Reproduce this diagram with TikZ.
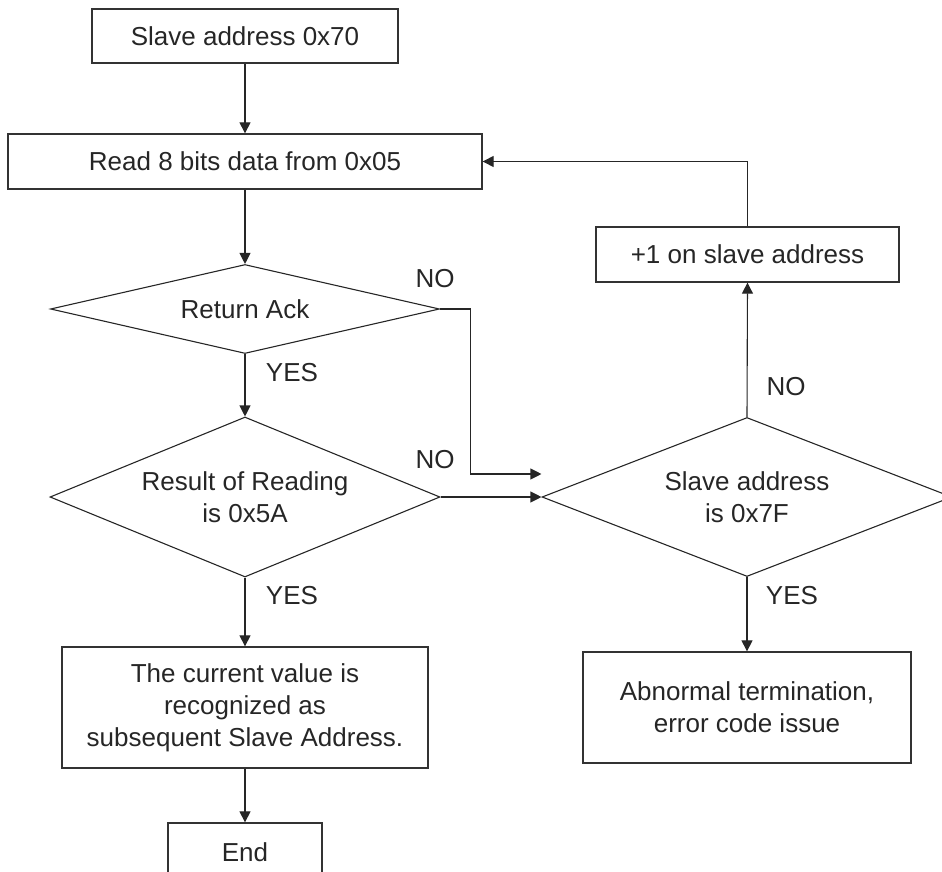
\documentclass[tikz,border=0pt]{standalone}
\usepackage{fontspec}
\setmainfont{Liberation Sans}
\usetikzlibrary{shapes.geometric,arrows.meta}
\begin{document}
\begin{tikzpicture}[x=1pt,y=-1pt,
  every node/.style={font=\fontsize{26}{32}\selectfont, text=black!85},
  box/.style={draw=black!80, line width=1.3pt, rectangle, inner sep=0pt, align=center},
  dia/.style={draw=black!85, line width=1.1pt, diamond, shape aspect=2.5, inner sep=0pt, align=center},
  conn/.style={draw=black!85, line width=1.1pt, -{Triangle[length=11pt,width=11pt]}},
  lbl/.style={inner sep=0pt}]
\useasboundingbox (0,0) rectangle (942,872);
\node[box, minimum width=306pt, minimum height=54pt] (b1) at (245,36) {Slave address 0x70};
\node[box, minimum width=474pt, minimum height=55pt] (b2) at (245,161.5) {Read 8 bits data from 0x05};
\node[dia, minimum width=389pt, minimum height=89pt] (d1) at (245,309) {Return Ack};
\node[dia, minimum width=390pt, minimum height=160pt] (d2) at (245,497) {Result of Reading\\is 0x5A};
\node[dia, minimum width=410pt, minimum height=159pt] (d3) at (747,497) {Slave address\\is 0x7F};
\node[box, minimum width=303pt, minimum height=55pt] (inc) at (747.5,254.5) {+1 on slave address};
\node[box, minimum width=366pt, minimum height=121pt] (cur) at (245,707.5) {The current value is\\recognized as\\subsequent Slave Address.};
\node[box, minimum width=328pt, minimum height=111pt] (abn) at (747,707.5) {Abnormal termination,\\error code issue};
\node[box, minimum width=154pt, minimum height=58pt] (fin) at (245,852) {End};

\node[lbl] (no1) at (435,279) {NO};
\node[lbl] (yes1) at (292,373) {YES};
\node[lbl] (no2) at (435,460) {NO};
\node[lbl] (no3) at (786,387) {NO};
\node[lbl] (yes2) at (292,596) {YES};
\node[lbl] (yes3) at (792,596) {YES};

\coordinate (j1) at ([yshift=23pt]d3.west);
\draw[conn] (b1.south) -- (b2.north);
\draw[conn] (b2.south) -- (d1.north);
\draw[conn] (d1.south) -- (d2.north);
\draw[conn] (d1.east) -- ++(30,0) |- (j1);
\draw[conn] (d2.east) -- (d3.west);
\draw[conn] (d3.north) -- (inc.south);
\draw[conn] (inc.north) |- (b2.east);
\draw[conn] (d2.south) -- (cur.north);
\draw[conn] (cur.south) -- (fin.north);
\draw[conn] (d3.south) -- (abn.north);
\end{tikzpicture}
\end{document}
